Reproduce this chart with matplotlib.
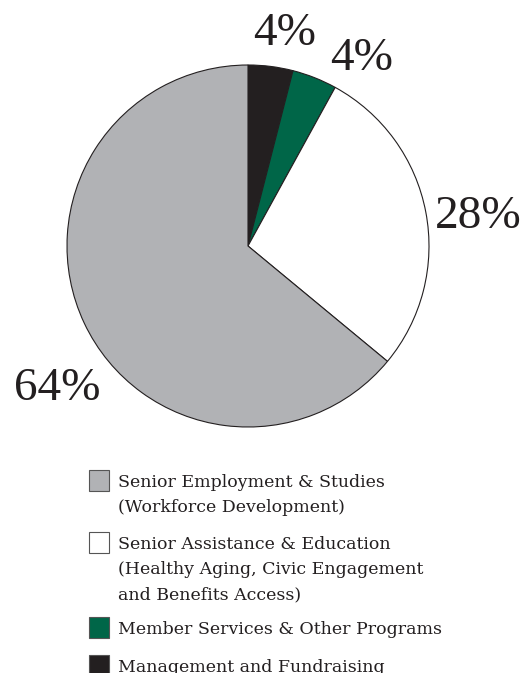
import numpy as np
import matplotlib
matplotlib.use('Agg')
import matplotlib.pyplot as plt
from matplotlib.patches import Rectangle

# data, clockwise from 12 o'clock
categories = ['Management and Fundraising',
              'Member Services & Other Programs',
              'Senior Assistance & Education\n(Healthy Aging, Civic Engagement\nand Benefits Access)',
              'Senior Employment & Studies\n(Workforce Development)']
shares = [4, 4, 28, 64]
pct_labels = ['4%', '4%', '28%', '64%']
colors = ['#231f20', '#006648', '#ffffff', '#b1b2b5']

# legend order (top to bottom) as in the printed chart
legend_order = [3, 2, 1, 0]

W, H = 524, 673
plt.rcParams['font.family'] = ['Liberation Serif', 'DejaVu Serif']

fig = plt.figure(figsize=(W / 100, H / 100), dpi=100)

# pie axes, centre (248, 246) px, radius 181 px
cx, cy, r = 248, 246, 181
ax = fig.add_axes([(cx - r) / W, (H - cy - r) / H, 2 * r / W, 2 * r / H])
wedges, _ = ax.pie(shares, colors=colors, startangle=90, counterclock=False,
                   radius=1, wedgeprops=dict(edgecolor='#231f20', linewidth=0.8))
ax.set_xlim(-1, 1)
ax.set_ylim(-1, 1)
ax.set_aspect('auto')
ax.axis('off')

# label nudges (baseline distance from centre in radii, angle shift in degrees)
lab_dist = [1.128, 1.159, 1.275, 1.356]
lab_shift = [-3, -11.3, -6.3, 13.7]
for w, lab, d, s in zip(wedges, pct_labels, lab_dist, lab_shift):
    ang = np.deg2rad((w.theta1 + w.theta2) / 2 + s)
    ax.text(d * np.cos(ang), d * np.sin(ang), lab, ha='center', va='baseline',
            fontsize=34, color='#231f20', clip_on=False)

# legend drawn by hand so the swatch sits with the first line
box_tops = [470, 532, 617, 655]
line_gap = 25
for top, idx in zip(box_tops, legend_order):
    fig.patches.append(Rectangle((89 / W, 1 - (top + 21) / H), 20 / W, 21 / H,
                                 transform=fig.transFigure, facecolor=colors[idx],
                                 edgecolor='#555555', linewidth=0.8))
    for k, line in enumerate(categories[idx].split('\n')):
        fig.text(118 / W, 1 - (top + 17 + k * line_gap) / H, line,
                 ha='left', va='baseline', fontsize=12.5, color='#231f20',
                 family='DejaVu Serif')

fig.savefig('out.png', dpi=100, facecolor='white')
